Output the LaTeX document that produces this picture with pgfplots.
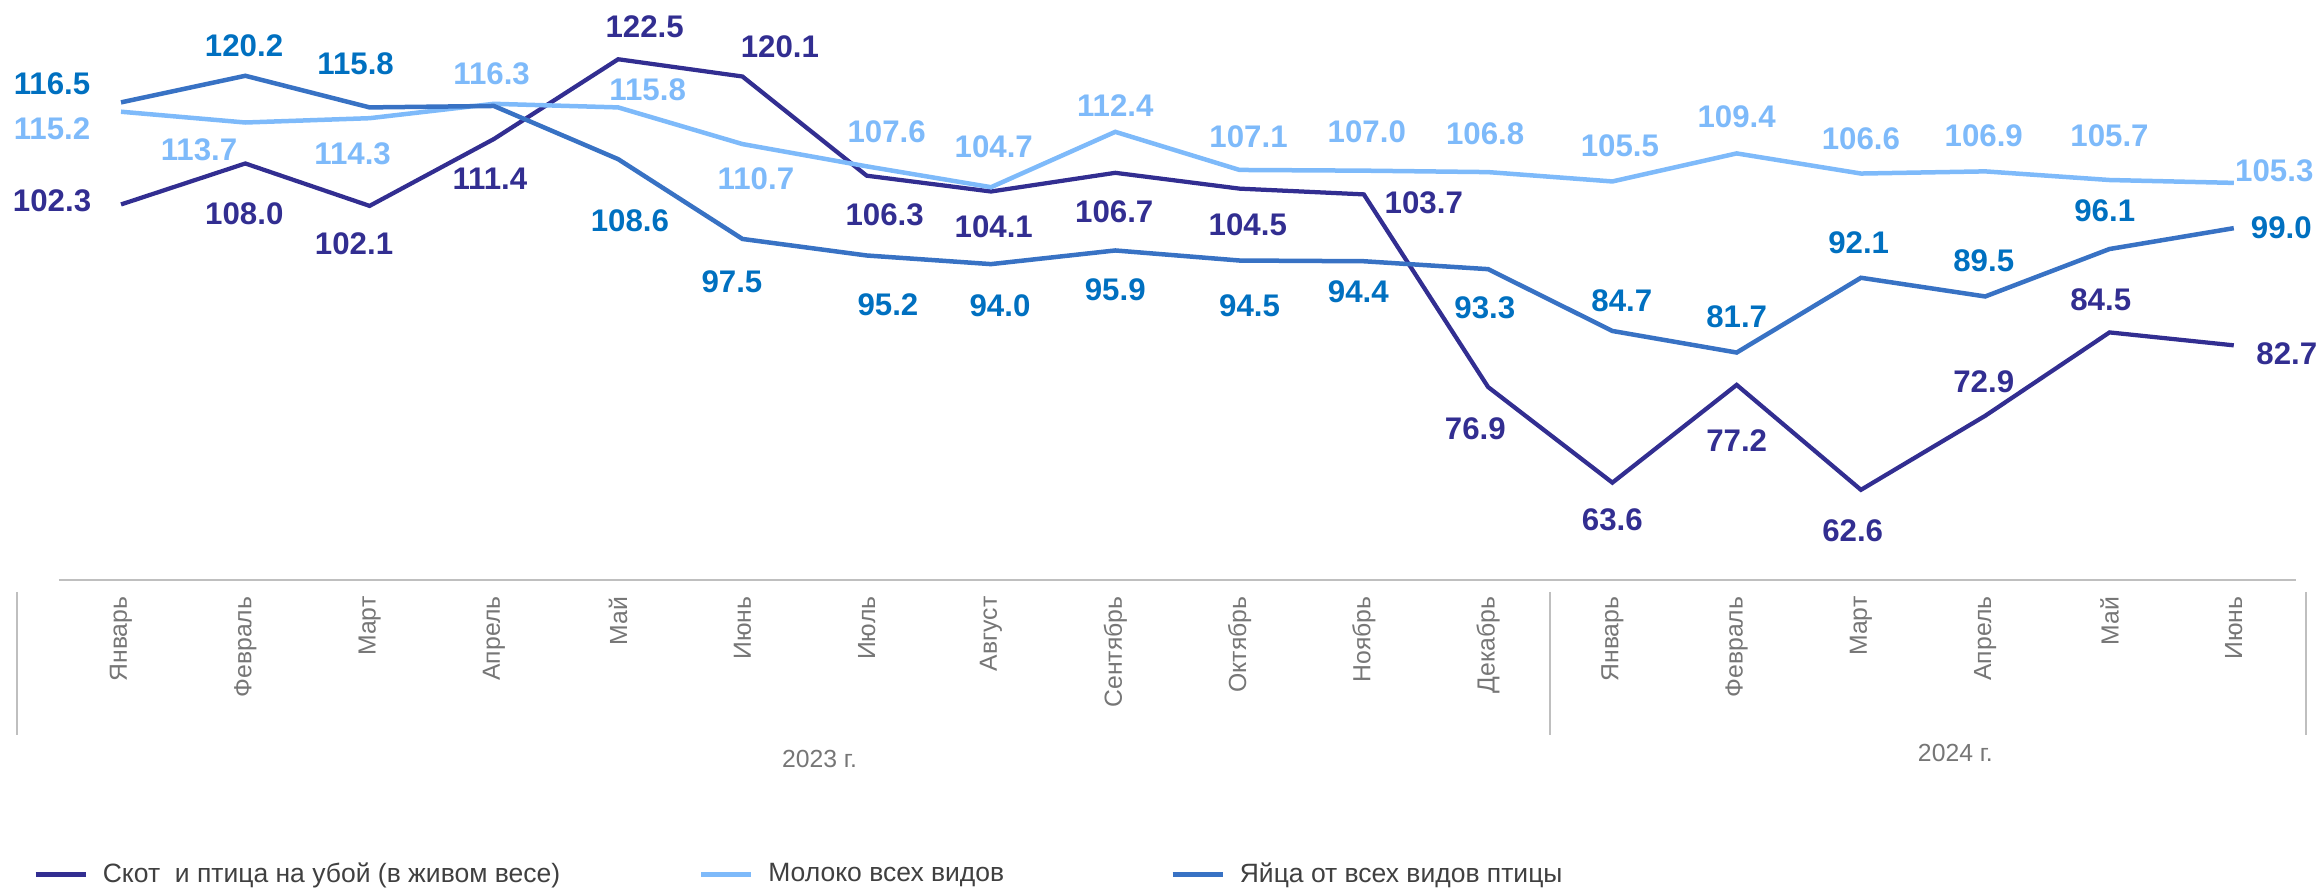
\documentclass[border=0pt]{standalone}
\usepackage{pgfplots}
\usepackage{pgfplotstable}
\pgfplotsset{compat=1.18}
\usepackage{fontspec}
\setmainfont{Liberation Sans}
\definecolor{scotc}{RGB}{50,46,145}
\definecolor{milkc}{RGB}{126,186,250}
\definecolor{eggc}{RGB}{56,114,196}
\definecolor{egglab}{RGB}{0,112,192}
\definecolor{axgray}{RGB}{191,191,191}
\definecolor{txtgray}{RGB}{118,118,118}
\definecolor{legtxt}{RGB}{64,64,64}

\pgfplotstableread{
x y dx dy lab
0 102.3 -27.6 1.4 102.3
1 108.0 -0.4 -20.2 108.0
2 102.1 -6.2 -15.2 102.1
3 111.4 -1.6 -16.0 111.4
4 122.5 10.6 13.0 122.5
5 120.1 15.0 11.8 120.1
6 106.3 7.2 -15.5 106.3
7 104.1 1.1 -14.1 104.1
8 106.7 -0.4 -15.4 106.7
9 104.5 3.3 -14.4 104.5
10 103.7 24.0 -3.2 103.7
11 76.9 -5.1 -16.8 76.9
12 63.6 0.0 -15.0 63.6
13 77.2 0.0 -22.4 77.2
14 62.6 -3.3 -16.5 62.6
15 72.9 -0.6 13.5 72.9
16 84.5 -3.5 13.0 84.5
17 82.7 21.2 -3.5 82.7
}\scot

\pgfplotstableread{
x y dx dy lab
0 115.2 -27.6 -6.9 115.2
1 113.7 -18.5 -11.0 113.7
2 114.3 -6.8 -14.3 114.3
3 116.3 -0.9 12.0 116.3
4 115.8 11.8 7.0 115.8
5 110.7 5.4 -14.0 110.7
6 107.6 8.0 13.7 107.6
7 104.7 1.1 16.2 104.7
8 112.4 0.0 10.5 112.4
9 107.1 3.6 13.2 107.1
10 107.0 1.2 15.5 107.0
11 106.8 -1.2 15.2 106.8
12 105.5 3.0 14.2 105.5
13 109.4 0.0 14.6 109.4
14 106.6 0.0 13.9 106.6
15 106.9 -0.6 14.4 106.9
16 105.7 0.0 17.7 105.7
17 105.3 16.2 5.0 105.3
}\milk

\pgfplotstableread{
x y dx dy lab
0 116.5 -27.6 7.4 116.5
1 120.2 -0.5 12.0 120.2
2 115.8 -5.6 17.5 115.8
3 116.0 0.0 0.0 {}
4 108.6 4.7 -24.7 108.6
5 97.5 -4.2 -17.2 97.5
6 95.2 8.5 -19.8 95.2
7 94.0 3.6 -16.8 94.0
8 95.9 0.0 -15.8 95.9
9 94.5 4.0 -18.2 94.5
10 94.4 -2.2 -12.3 94.4
11 93.3 -1.3 -15.4 93.3
12 84.7 3.8 12.2 84.7
13 81.7 0.0 14.2 81.7
14 92.1 -0.9 14.1 92.1
15 89.5 -0.6 14.2 89.5
16 96.1 -1.9 15.3 96.1
17 99.0 19.0 0.3 99.0
}\egg

\pgfplotsset{
  vallabels/.style={
    nodes near coords,
    point meta=explicit symbolic,
    visualization depends on={\thisrow{dx}\as\myDx},
    visualization depends on={\thisrow{dy}\as\myDy},
    every node near coord/.style={anchor=center, inner sep=0pt,
      xshift=\myDx pt, yshift=\myDy pt,
      font=\fontsize{12.5}{14}\selectfont\bfseries, text=#1},
  }
}

\begin{document}
\begin{tikzpicture}
\useasboundingbox (-23.56pt,-124.64pt) rectangle (904.44pt,232.16pt);
\begin{axis}[
  scale only axis,
  width=894.8pt, height=230.04pt,
  xmin=-0.5, xmax=17.5, ymin=50, ymax=130,
  clip=false,
  axis x line*=bottom, axis y line=none,
  x axis line style={draw=axgray, line width=0.8pt, -},
  xtick={0,...,17},
  xticklabels={Январь,Февраль,Март,Апрель,Май,Июнь,Июль,Август,Сентябрь,Октябрь,Ноябрь,Декабрь,Январь,Февраль,Март,Апрель,Май,Июнь},
  major tick length=0pt,
  xticklabel style={rotate=90, anchor=east, inner sep=0pt,
    font=\fontsize{9.9}{11}\selectfont, text=txtgray},
  xticklabel shift=6.3pt,
  legend columns=3,
  legend image code/.code={\draw[#1] (0pt,0pt) -- (20pt,0pt);},
  legend style={at={(-0.01144,-0.511)}, anchor=west, draw=none, fill=none,
    inner sep=0pt, outer sep=0pt,
    nodes={inner sep=0pt, text=legtxt, font=\fontsize{10.6}{12}\selectfont},
    /tikz/every odd column/.append style={column sep=6pt}},
  legend cell align=left,
]
\addlegendimage{draw=scotc, line width=1.8pt}
\addlegendentry{\makebox[238.4pt][l]{Скот\ \ и птица на убой (в живом весе)}}
\addlegendimage{draw=milkc, line width=1.8pt}
\addlegendentry{\makebox[160.8pt][l]{Молоко всех видов}}
\addlegendimage{draw=eggc, line width=1.8pt}
\addlegendentry{Яйца от всех видов птицы}

\addplot[draw=scotc, line width=1.7pt, mark=none, forget plot, vallabels=scotc]
  table[x=x, y=y, meta=lab] {\scot};
\addplot[draw=milkc, line width=1.8pt, mark=none, forget plot, vallabels=milkc]
  table[x=x, y=y, meta=lab] {\milk};
\addplot[draw=eggc, line width=1.8pt, mark=none, forget plot, vallabels=egglab]
  table[x=x, y=y, meta=lab] {\egg};

\draw[axgray, line width=0.8pt] (axis cs:-0.837,48.4) -- (axis cs:-0.837,28.5);
\draw[axgray, line width=0.8pt] (axis cs:11.5,48.4) -- (axis cs:11.5,28.5);
\draw[axgray, line width=0.8pt] (axis cs:17.58,48.4) -- (axis cs:17.58,28.5);
\node[font=\fontsize{9.9}{11}\selectfont, text=txtgray, inner sep=0pt] at (axis cs:5.62,25.15) {2023 г.};
\node[font=\fontsize{9.9}{11}\selectfont, text=txtgray, inner sep=0pt] at (axis cs:14.76,26.0) {2024 г.};
\end{axis}
\end{tikzpicture}
\end{document}
